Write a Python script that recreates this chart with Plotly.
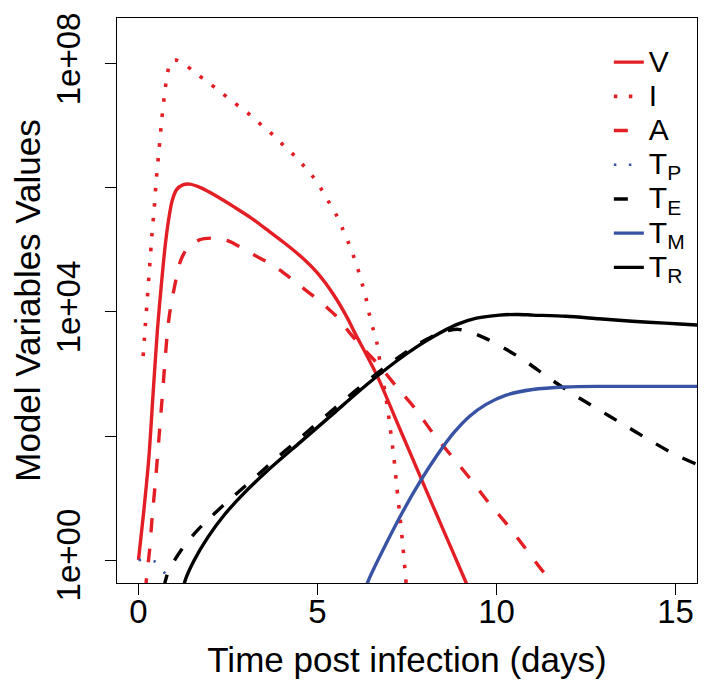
import plotly.graph_objects as go

# ---- data (time in days, values on log scale) ----
t_V = [0, 0.15, 0.29, 0.41, 0.53, 0.64, 0.75, 0.85, 0.94, 1.06, 1.24, 1.43, 1.75, 2.21, 2.68,
       3.14, 3.6, 4.06, 4.53, 4.99, 5.45, 5.83, 6.01, 6.66, 7.31, 7.95, 8.51, 9.11, 9.5]
V = [1.0, 6.3, 44.7, 5.0e2, 5.25e3, 2.8e4, 1.23e5, 3.3e5, 6.2e5, 9.3e5, 1.12e6, 1.15e6, 1.0e6, 7.2e5, 4.9e5,
     3.3e5, 2.1e5, 1.32e5, 7.9e4, 4.3e4, 1.9e4, 8.1e3, 5.0e3, 9.5e2, 1.26e2, 17.4, 3.1, 0.49, 0.14]

t_I = [0.13, 0.19, 0.25, 0.31, 0.37, 0.44, 0.5, 0.575, 0.65, 0.74, 0.8, 0.9, 1.05, 1.19, 1.52, 1.85,
       2.18, 2.5, 2.82, 3.15, 3.46, 3.77, 4.06, 4.36, 4.64, 4.9, 5.13, 5.34, 5.54, 5.71, 5.87, 6.02,
       6.14, 6.26, 6.36, 6.45, 6.55, 6.66, 6.78, 6.92, 7.03, 7.13, 7.21, 7.31, 7.39, 7.46, 7.53]
I = [1.95e3, 5.9e3, 1.74e4, 5.25e4, 1.58e5, 4.68e5, 1.41e6, 4.17e6, 1.26e7, 3.72e7, 6.46e7, 1.07e8,
     1.15e8, 1.07e8, 7.76e7, 5.5e7, 3.98e7, 2.82e7, 2.04e7, 1.45e7, 1.0e7, 7.08e6, 4.79e6, 3.31e6,
     2.19e6, 1.45e6, 9.1e5, 5.6e5, 3.55e5, 2.14e5, 1.29e5, 7.6e4, 4.68e4, 2.69e4, 1.62e4, 9.1e3,
     5.4e3, 3.16e3, 1.12e3, 3.9e2, 1.35e2, 47, 16, 4.6, 1.55, 0.54, 0.18]

t_A = [0.15, 0.22, 0.31, 0.39, 0.47, 0.66, 0.85, 1.06, 1.18, 1.36, 1.70, 2.07, 2.49, 2.86, 3.23,
       3.57, 3.93, 4.25, 4.57, 4.9, 5.27, 5.55, 5.9, 6.3, 6.75, 7.2, 7.72, 8.23, 8.74, 9.25, 9.76,
       10.27, 10.78, 11.24, 11.52, 11.8]
A = [0.1, 0.48, 1.45, 5.6, 17.4, 4.0e2, 7.8e3, 3.6e4, 6.8e4, 1.05e5, 1.45e5, 1.55e5, 1.41e5, 1.1e5,
     8.3e4, 6.5e4, 4.8e4, 3.5e4, 2.5e4, 1.78e4, 1.17e4, 8.3e3, 4.6e3, 2.5e3, 1.32e3, 6.3e2, 2.8e2,
     1.1e2, 48, 21, 8.7, 3.9, 1.62, 0.72, 0.46, 0.25]

t_TP = [0, 0.45, 0.72, 0.95, 1.2]
TP = [1.0, 0.95, 0.63, 0.3, 0.1]

t_TE = [0.7, 0.83, 1.01, 1.24, 1.52, 1.80, 2.07, 2.40, 2.72, 3.19, 3.79, 4.44, 5.04, 5.69, 6.29,
        6.98, 7.44, 7.72, 8.09, 8.33, 8.65, 8.93, 9.25, 9.71, 10.08, 10.55, 10.92, 11.43, 12.12,
        12.81, 13.51, 14.2, 14.94, 15.59, 16.0]
TE = [0.35, 0.65, 1.0, 1.58, 2.51, 3.72, 5.25, 7.94, 11.5, 20, 40.7, 85, 170, 355, 692, 1410, 2190,
      2820, 3720, 4370, 5010, 5250, 4790, 3720, 2880, 2000, 1450, 890, 480, 275, 158, 91, 52, 35, 28]

t_TM = [6.2, 6.43, 6.94, 7.40, 7.86, 8.33, 8.79, 9.25, 9.71, 10.27, 11.01, 11.94, 12.86, 13.79,
        15.59, 16.0]
TM = [0.2, 0.48, 1.95, 6.3, 18.2, 47.9, 110, 209, 324, 457, 562, 617, 631, 631, 631, 631]

t_TR = [1.2, 1.31, 1.56, 1.94, 2.40, 2.95, 3.60, 4.53, 5.45, 6.38, 7.21, 7.75, 8.23, 8.88, 9.44,
        10.08, 10.6, 11.01, 11.94, 12.86, 13.79, 14.71, 15.59, 16.0]
TR = [0.25, 0.48, 1.0, 2.34, 5.37, 12.0, 27.5, 80.4, 232, 676, 1620, 2690, 3980, 6240, 7940, 8910, 9120,
      8910, 8510, 7760, 7080, 6610, 6170, 6030]

x_ticks = [0, 5, 10, 15]
y_ticks = [1, 1e2, 1e4, 1e6, 1e8]
y_ticktext = ["1e+00", "", "1e+04", "", "1e+08"]

RED = "#E31E24"
BLUE = "#3953A4"
BLACK = "#000000"
FONT = "Liberation Sans"

fig = go.Figure()


def label(s):
    return '<span style="font-size:30px">' + s + '</span>'


def add(name, t, y, color, dash, width):
    fig.add_trace(go.Scatter(
        x=t, y=y, mode="lines", name=label(name),
        line=dict(color=color, dash=dash, width=width, shape="spline", smoothing=0.8),
    ))


add("V", t_V, V, RED, "solid", 3.4)
add("I", t_I, I, RED, "3.5px,11.5px", 3.6)
add("A", t_A, A, RED, "14px,16px", 3.4)
add("T<sub>P</sub>", t_TP, TP, BLUE, "2.5px,12.5px", 2.6)
add("T<sub>E</sub>", t_TE, TE, BLACK, "14px,16px", 3.4)
add("T<sub>M</sub>", t_TM, TM, BLUE, "solid", 3.4)
add("T<sub>R</sub>", t_TR, TR, BLACK, "solid", 3.4)

fig.update_layout(
    width=701, height=686,
    margin=dict(l=109, r=12, t=10, b=111),
    paper_bgcolor="white", plot_bgcolor="white",
    font=dict(family=FONT, color="black"),
    showlegend=True,
    legend=dict(
        x=0.848, y=0.961, xanchor="left", yanchor="top",
        bgcolor="rgba(0,0,0,0)", borderwidth=0,
        font=dict(size=24, family=FONT, color="black"),
        tracegroupgap=0,
    ),
    xaxis=dict(
        range=[-0.6, 15.6], tickvals=x_ticks, ticks="outside", ticklen=11, tickwidth=1.2,
        tickcolor="black", showline=True, linecolor="black", linewidth=1.3, mirror=True,
        showgrid=False, zeroline=False, tickfont=dict(size=33), automargin=False,
        ticklabelstandoff=-12,
        title=dict(text="Time post infection (days)", font=dict(size=35), standoff=18),
    ),
    yaxis=dict(
        type="log", range=[-0.37, 8.74], tickvals=y_ticks, ticktext=y_ticktext,
        tickangle=-90, ticks="outside", ticklen=11, tickwidth=1.2, tickcolor="black",
        showline=True, linecolor="black", linewidth=1.3, mirror=True, automargin=False,
        showgrid=False, zeroline=False, tickfont=dict(size=33), ticklabelstandoff=12,
        title=dict(text="Model Variables Values", font=dict(size=35), standoff=2),
    ),
)

fig.write_html("out.html")
